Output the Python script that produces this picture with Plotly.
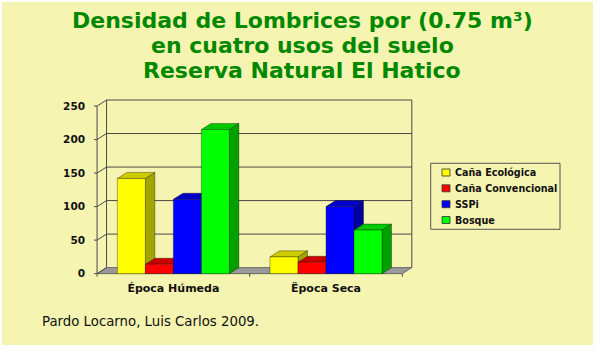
import plotly.graph_objects as go

# ---------------- data ----------------
categories = ["Época Húmeda", "Ëpoca Seca"]
series_names = ["Caña Ecológica", "Caña Convencional", "SSPi", "Bosque"]
epoca_humeda = [142, 14, 111, 215]
epoca_seca = [25, 17, 100, 65]
y_ticks = [0, 50, 100, 150, 200, 250]

title_lines = ["Densidad de Lombrices por (0.75 m³)",
               "en cuatro usos del suelo",
               "Reserva Natural El Hatico"]
source_text = "Pardo Locarno, Luis Carlos 2009."

# ---------------- style ----------------
front_colors = ["#FFFF00", "#FF0000", "#0000FF", "#00FF00"]
side_colors = ["#A4A400", "#A00000", "#0000A0", "#00A000"]
top_colors = ["#CCCC00", "#C80000", "#0000C8", "#00C800"]
BG = "#F5F4B0"
GRID = "#4A4A4A"
TITLE_GREEN = "#008800"

W = 0.1835      # bar width (category units)
DX = 0.0623     # depth offset, x (category units)
DY = 9.0        # depth offset, y (value units)

L, R, T, B = 94, 187, 98, 75
FIG_W, FIG_H = 600, 352
PW, PH = FIG_W - L - R, FIG_H - T - B


def pxx(px):
    return (px - L) / PW


def pxy(py):
    return (FIG_H - B - py) / PH


cat_x = list(range(len(categories)))
values = [[epoca_humeda[k], epoca_seca[k]] for k in range(len(series_names))]
n = len(series_names)

fig = go.Figure()
shapes = []

# page background panel
shapes.append(dict(type="rect", xref="paper", yref="paper", layer="below",
                   x0=pxx(2), x1=pxx(593), y0=pxy(345), y1=pxy(2),
                   fillcolor=BG, line=dict(width=0)))

xl, xr = cat_x[0] - 0.5, cat_x[-1] + 0.5
ymax = y_ticks[-1]

# floor
shapes.append(dict(type="path", layer="below",
                   path=f"M {xl},0 L {xr},0 L {xr+DX},{DY} L {xl+DX},{DY} Z",
                   fillcolor="#9A9A9A", line=dict(color="#555555", width=0.8)))

# back wall gridlines, left wall diagonals and axis ticks
for v in y_ticks:
    if v > 0:
        shapes.append(dict(type="line", layer="below", x0=xl + DX, x1=xr + DX,
                           y0=v + DY, y1=v + DY, line=dict(color=GRID, width=1)))
    shapes.append(dict(type="line", layer="below", x0=xl, x1=xl + DX,
                       y0=v, y1=v + DY, line=dict(color=GRID, width=1)))
    shapes.append(dict(type="line", layer="below", x0=xl - 0.02, x1=xl,
                       y0=v, y1=v, line=dict(color=GRID, width=1)))

# verticals
for x0, y0, y1 in [(xl, 0, ymax), (xl + DX, DY, ymax + DY), (xr + DX, DY, ymax + DY)]:
    shapes.append(dict(type="line", layer="below", x0=x0, x1=x0, y0=y0, y1=y1,
                       line=dict(color=GRID, width=1)))

# category boundary ticks
for i in range(len(categories) + 1):
    xb = xl + i
    shapes.append(dict(type="line", layer="below", x0=xb, x1=xb, y0=0, y1=-4.5,
                       line=dict(color=GRID, width=1)))

# 3D faces (side + top) for each bar, left to right
for i, cx in enumerate(cat_x):
    for k in range(n):
        v = values[k][i]
        x0 = cx - n * W / 2 + k * W
        x1 = x0 + W
        shapes.append(dict(type="path", layer="below",
                           path=f"M {x1},0 L {x1+DX},{DY} L {x1+DX},{v+DY} L {x1},{v} Z",
                           fillcolor=side_colors[k],
                           line=dict(color="rgba(0,0,0,0.55)", width=0.6)))
        shapes.append(dict(type="path", layer="below",
                           path=f"M {x0},{v} L {x0+DX},{v+DY} L {x1+DX},{v+DY} L {x1},{v} Z",
                           fillcolor=top_colors[k],
                           line=dict(color="rgba(0,0,0,0.55)", width=0.6)))

# front faces
for k in range(n):
    fig.add_trace(go.Bar(
        x=cat_x, y=values[k], name=series_names[k],
        offset=-n * W / 2 + k * W, width=W,
        marker=dict(color=front_colors[k],
                    line=dict(color="rgba(0,0,0,0.55)", width=0.6)),
        showlegend=False, hoverinfo="x+y+name"))

annotations = []
# title
for j, (line, py) in enumerate(zip(title_lines, [20.5, 45.5, 70.5])):
    annotations.append(dict(text=line, xref="paper", yref="paper",
                            x=pxx(302), y=pxy(py), xanchor="center", yanchor="middle",
                            showarrow=False,
                            font=dict(family="DejaVu Sans", size=22, weight="bold",
                                      color=TITLE_GREEN)))
# source
annotations.append(dict(text=source_text, xref="paper", yref="paper",
                        x=pxx(40), y=pxy(321.7), xanchor="left", yanchor="middle",
                        showarrow=False,
                        font=dict(family="DejaVu Sans", size=13.3, color="#111111")))

# legend (manual)
shapes.append(dict(type="rect", xref="paper", yref="paper",
                   x0=pxx(430.7), x1=pxx(560), y0=pxy(229.3), y1=pxy(163.3),
                   line=dict(color="#555555", width=1), fillcolor="rgba(0,0,0,0)"))
leg_y = [172.5, 188.3, 204.2, 220.0]
for k in range(n):
    yc = leg_y[k]
    shapes.append(dict(type="rect", xref="paper", yref="paper",
                       x0=pxx(442), x1=pxx(450), y0=pxy(yc + 3.5), y1=pxy(yc - 3.5),
                       fillcolor=front_colors[k], line=dict(color="#333333", width=0.8)))
    annotations.append(dict(text=series_names[k], xref="paper", yref="paper",
                            x=pxx(453), y=pxy(yc), xanchor="left", yanchor="middle",
                            showarrow=False,
                            font=dict(family="DejaVu Sans", size=9.6, weight="bold",
                                      color="#111111")))

fig.update_layout(
    width=FIG_W, height=FIG_H, autosize=False,
    margin=dict(l=L, r=R, t=T, b=B, pad=0),
    paper_bgcolor="white", plot_bgcolor="rgba(0,0,0,0)",
    barmode="overlay", showlegend=False,
    shapes=shapes, annotations=annotations,
    xaxis=dict(range=[xl - 0.02, xr + 0.07], tickmode="array", tickvals=cat_x,
               ticktext=categories, showgrid=False, zeroline=False, showline=False,
               ticks="", tickfont=dict(family="DejaVu Sans", size=11, weight="bold",
                                       color="#111111"),
               ticklabelstandoff=3, fixedrange=True),
    yaxis=dict(range=[-5, 262], tickmode="array", tickvals=y_ticks,
               showgrid=False, zeroline=False, showline=False, ticks="",
               tickfont=dict(family="DejaVu Sans", size=10.5, weight="bold",
                             color="#111111"),
               ticklabelstandoff=8, fixedrange=True),
)

fig.write_html("out.html")
